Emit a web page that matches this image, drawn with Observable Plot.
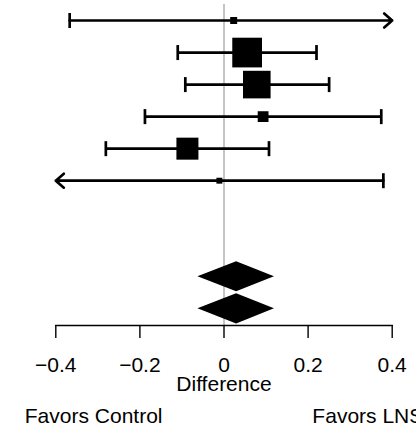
<!DOCTYPE html>
<html>
<head>
<meta charset="utf-8">
<script src="https://cdn.jsdelivr.net/npm/d3@7"></script>
<script src="https://cdn.jsdelivr.net/npm/@observablehq/plot@0.6"></script>
<style>
  html, body { margin: 0; padding: 0; background: #ffffff; }
  #chart { width: 416px; height: 432px; overflow: hidden; }
</style>
</head>
<body>
<div id="chart"></div>
<script>
// ---- Study-level data (rows from top) ----
const studyRow  = [1, 2, 3, 4, 5, 6];
const studyEst  = [0.023, 0.055, 0.078, 0.093, -0.087, -0.011];
const studyLo   = [-0.367, -0.110, -0.092, -0.188, -0.281, -0.42];
const studyHi   = [0.42, 0.220, 0.250, 0.374, 0.107, 0.379];
const studyWeight = [2.1, 37.9, 32.7, 5.0, 20.8, 1.5];

// ---- Pooled estimates (diamonds) ----
const poolRow = [9, 10];
const poolEst = [0.030, 0.030];
const poolLo  = [-0.062, -0.062];
const poolHi  = [0.120, 0.120];

// ---- Axis ----
const tickValues = [-0.4, -0.2, 0, 0.2, 0.4];
const tickLabels = ["\u22120.4", "\u22120.2", "0", "0.2", "0.4"];
const xLimits = [-0.4, 0.4];
const axisTitle = "Difference";
const sideLabels = ["Favors Control", "Favors LNS"];
const sideLabelX = [-0.31, 0.342];

// ---- Build tables ----
const studies = studyRow.map((r, i) => ({
  row: r, est: studyEst[i], lo: studyLo[i], hi: studyHi[i], w: studyWeight[i]
}));
const [xmin, xmax] = xLimits;
const plain = studies.filter(d => d.lo >= xmin && d.hi <= xmax);
const rightArrow = studies.filter(d => d.hi > xmax);
const leftArrow = studies.filter(d => d.lo < xmin);
const caps = [];
studies.forEach(d => {
  if (d.lo >= xmin) caps.push({x: d.lo, row: d.row});
  if (d.hi <= xmax) caps.push({x: d.hi, row: d.row});
});
const diamondHalf = 0.47; // half-height of a diamond, in row units
const diamonds = [];
poolRow.forEach((r, i) => {
  diamonds.push({id: i, y: r - diamondHalf, x1: poolEst[i], x2: poolEst[i]});
  diamonds.push({id: i, y: r, x1: poolLo[i], x2: poolHi[i]});
  diamonds.push({id: i, y: r + diamondHalf, x1: poolEst[i], x2: poolEst[i]});
});
const sides = sideLabels.map((t, i) => ({t, x: sideLabelX[i]}));

const capSymbol = {
  draw(context, size) {
    const h = Math.sqrt(size / Math.PI);
    context.moveTo(0, -h);
    context.lineTo(0, h);
  }
};

const lw = 2.7;
const font = "'Liberation Sans', Arial, Helvetica, sans-serif";

const chart = Plot.plot({
  width: 416,
  height: 432,
  marginTop: 4,
  marginBottom: 107,
  marginLeft: 55.3,
  marginRight: 24.3,
  style: {fontFamily: font, fontSize: "21px", background: "#ffffff", color: "#000", overflow: "visible"},
  x: {domain: xLimits, axis: null},
  y: {domain: [0.5, 10.52], reverse: true, axis: null},
  r: {type: "sqrt", domain: [0, 37.9], range: [0, 16.76]},
  marks: [
    Plot.ruleX([0], {stroke: "#8a8a8a", strokeWidth: 1}),
    Plot.ruleY(plain, {y: "row", x1: "lo", x2: "hi", stroke: "black", strokeWidth: lw}),
    Plot.arrow(rightArrow, {x1: "lo", x2: () => xmax, y1: "row", y2: "row",
      stroke: "black", strokeWidth: lw, headLength: 5.9, headAngle: 82}),
    Plot.arrow(leftArrow, {x1: "hi", x2: () => xmin, y1: "row", y2: "row",
      stroke: "black", strokeWidth: lw, headLength: 5.9, headAngle: 82}),
    Plot.dot(caps, {x: "x", y: "row", r: 7.5, symbol: capSymbol, stroke: "black", strokeWidth: lw, fill: "none"}),
    Plot.dot(studies, {x: "est", y: "row", r: "w", symbol: "square", fill: "black", stroke: "none"}),
    Plot.areaX(diamonds, {y: "y", x1: "x1", x2: "x2", z: "id", fill: "black", curve: "linear"}),
    Plot.frame({anchor: "bottom", stroke: "black", strokeWidth: 1.4}),
    Plot.axisX({ticks: tickValues, tickFormat: d => tickLabels[tickValues.indexOf(d)],
      tickSize: 13, tickPadding: 19, fontSize: 21, stroke: "black", strokeWidth: 1.4, fill: "black"}),
    Plot.text([axisTitle], {x: () => 0, frameAnchor: "bottom", dy: 65.6, text: d => d, fontSize: 21, fill: "black"}),
    Plot.text(sides, {x: "x", text: "t", frameAnchor: "bottom", dy: 97.6, fontSize: 21, fill: "black"})
  ]
});
document.getElementById("chart").appendChild(chart);
</script>
</body>
</html>
